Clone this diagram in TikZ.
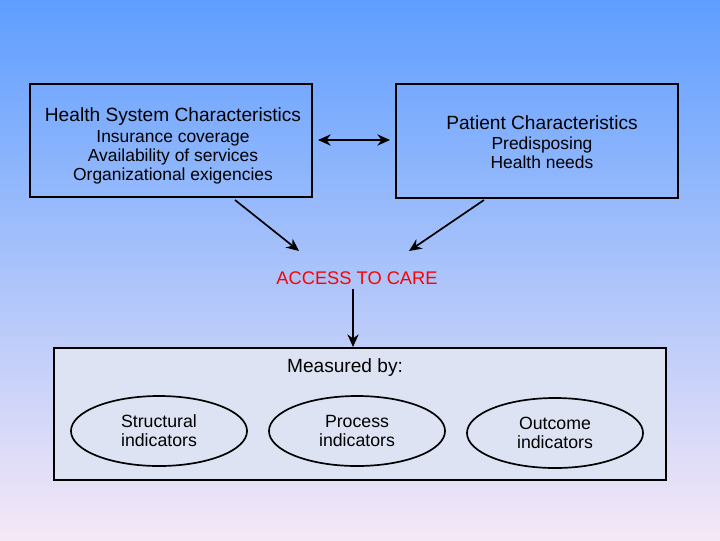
\documentclass[tikz,border=0pt]{standalone}
\usepackage{fontspec}
\setmainfont{Liberation Sans}
\usetikzlibrary{shapes.geometric,arrows.meta}
\definecolor{skytop}{HTML}{5E9EFF}
\definecolor{skybot}{HTML}{F6E8F6}
\definecolor{panel}{HTML}{DDE3F3}
\tikzset{
  box/.style={draw, very thick},
  head/.style={font=\fontsize{13.6}{15}\selectfont},
  small/.style={font=\fontsize{12.4}{13.5}\selectfont, align=center},
  oval/.style={draw, very thick, ellipse, minimum width=4.4cm, minimum height=1.75cm, fill=panel, font=\fontsize{12.6}{13.5}\selectfont, align=center},
  arr/.style={-{Stealth[length=9pt,width=8pt]}, very thick}
}
\begin{document}
\begin{tikzpicture}[x=0.025cm,y=-0.025cm]

        % Background
        \shade[top color=skytop, bottom color=skybot] (0,0) rectangle (720,540);
        \useasboundingbox (0,0) rectangle (720,540);

        % Health system characteristics
        \draw[box] (30,84) rectangle (312,197);
        \node[head] (hsc) at (173,117) {Health System Characteristics};
        \node[small] (hscl) at (173,157) {Insurance coverage\\Availability of services\\Organizational exigencies};

        % Patient characteristics
        \draw[box] (396,84) rectangle (678,198);
        \node[head] (pc) at (542,123) {Patient Characteristics};
        \node[small] (pcl) at (542,153) {Predisposing\\Health needs};

        % Access
        \node[text=red, font=\fontsize{13}{15}\selectfont] (access) at (357,278) {ACCESS TO CARE};

        \coordinate (dl) at (318,140);
        \coordinate (dr) at (390,140);
        \draw[arr, {Stealth[length=9pt,width=8pt]}-{Stealth[length=9pt,width=8pt]}] (dl) -- (dr);

        \coordinate (hb) at (235,200);
        \coordinate (ha) at (299,251);
        \coordinate (pb) at (484,200);
        \coordinate (pa) at (409,251);
        \draw[arr] (hb) -- (ha);
        \draw[arr] (pb) -- (pa);

        % Measured by
        \draw[box, fill=panel] (54,348) rectangle (666,480);
        \node[head] (meas) at (345,368) {Measured by:};
        \draw[arr] (access.south -| 353,0) -- (353,347);

        \node[oval] (struct) at (159,431) {Structural\\indicators};
        \node[oval] (proc) at (357,431) {Process\\indicators};
        \node[oval] (outc) at (555,433) {Outcome\\indicators};

    \end{tikzpicture}
\end{document}
